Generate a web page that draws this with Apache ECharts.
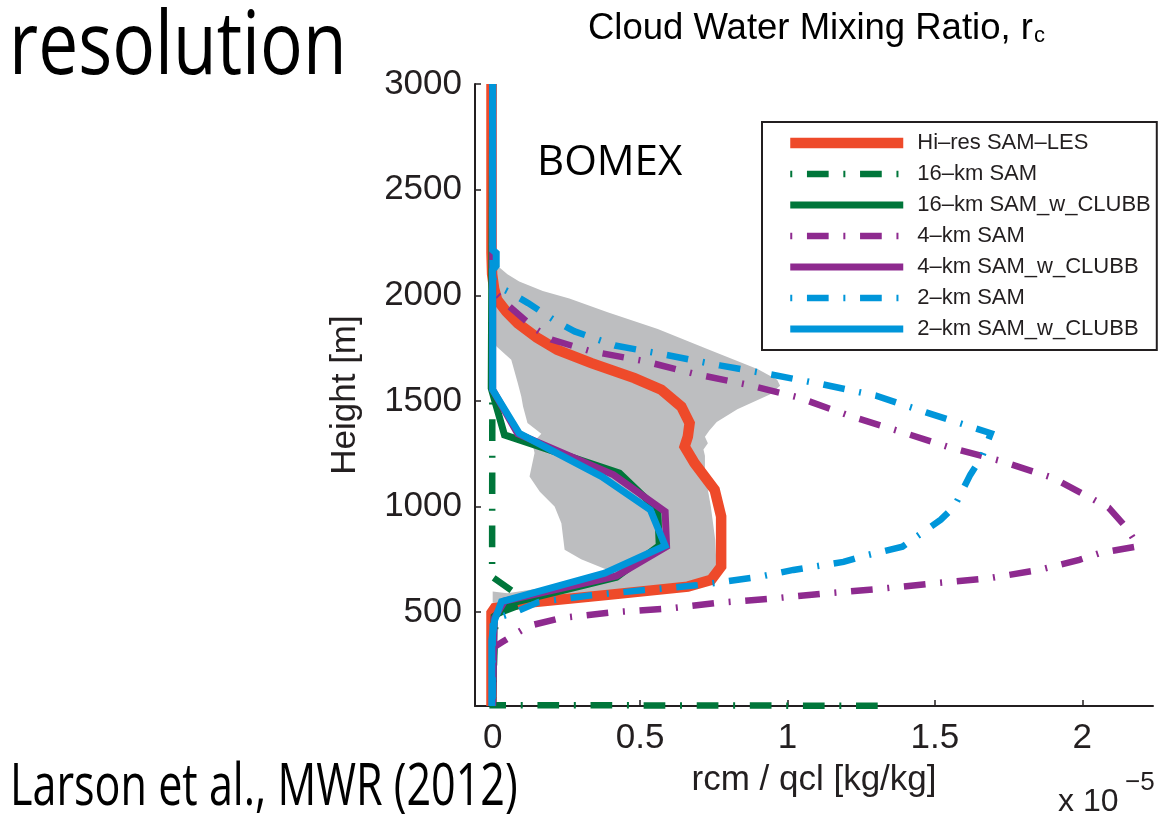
<!DOCTYPE html>
<html>
<head>
<meta charset="utf-8">
<script src="https://cdn.jsdelivr.net/npm/echarts@6.0.0/dist/echarts.min.js"></script>
<style>
  html, body { margin: 0; padding: 0; background: #ffffff; }
  #chart { width: 1172px; height: 815px; }
</style>
</head>
<body>
<div id="chart"></div>
<script>
// Heights in metres; mixing ratios in units of 1e-5 kg/kg.
const lesHeight = [3000, 2200, 2100, 2030, 1979, 1923, 1868, 1800, 1742, 1679, 1608, 1553, 1473, 1395, 1331, 1284, 1205, 1079, 953, 795, 716, 653, 621, 582, 543, 519, 497, 56];
const lesValue  = [-0.004, -0.004, -0.002, 0.005, 0.015, 0.046, 0.085, 0.15, 0.219, 0.335, 0.481, 0.572, 0.64, 0.668, 0.662, 0.651, 0.685, 0.753, 0.775, 0.775, 0.775, 0.741, 0.662, 0.391, 0.108, 0.007, -0.004, -0.004];

const sam16Height = [3000, 668, 548, 490, 60, 57];
const sam16Value  = [0, -0.002, 0.12, 0.01, 0, 1.34];

const clubb16Height = [3000, 1560, 1339, 1158, 985, 815, 665, 545, 480, 56];
const clubb16Value  = [0, -0.005, 0.04, 0.43, 0.56, 0.565, 0.42, 0.07, 0.005, 0];

const sam4Height = [3000, 2060, 2010, 1955, 1846, 1790, 1736, 1688, 1628, 1578, 1517, 1430, 1356, 1280, 1217, 1136, 1047, 994, 900, 812, 780, 748, 699, 660, 637, 610, 589, 565, 545, 518, 500, 472, 441, 416, 361, 330, 56];
const sam4Value  = [0, 0, 0.01, 0.05, 0.14, 0.2, 0.33, 0.515, 0.685, 0.86, 1.035, 1.21, 1.38, 1.55, 1.72, 1.9, 2.02, 2.09, 2.15, 2.19, 2.06, 1.99, 1.85, 1.68, 1.5, 1.31, 1.13, 0.95, 0.77, 0.6, 0.41, 0.23, 0.14, 0.1, 0.035, 0, 0];

const clubb4Height = [3000, 1553, 1345, 1150, 976, 811, 672, 552, 470, 56];
const clubb4Value  = [0, 0, 0.085, 0.41, 0.585, 0.59, 0.42, 0.04, 0.005, 0];

const sam2Height = [3000, 2080, 2040, 2010, 1963, 1876, 1829, 1762, 1716, 1668, 1625, 1578, 1525, 1446, 1347, 1236, 1150, 1000, 938, 810, 763, 738, 700, 668, 640, 627, 605, 580, 548, 500, 470, 440, 56];
const sam2Value  = [0, 0, 0.02, 0.063, 0.12, 0.216, 0.278, 0.415, 0.595, 0.77, 0.945, 1.12, 1.3, 1.47, 1.69, 1.66, 1.62, 1.566, 1.52, 1.39, 1.25, 1.19, 1.02, 0.905, 0.76, 0.69, 0.515, 0.335, 0.155, 0.075, 0.01, 0, 0];

const clubb2Height = [3000, 2215, 2200, 2140, 2120, 1553, 1347, 1142, 984, 815, 685, 550, 464, 369, 56];
const clubb2Value  = [0, 0, 0.012, 0.012, 0, 0, 0.09, 0.37, 0.535, 0.585, 0.38, 0.03, 0.007, -0.003, -0.003];

// Outline of the LES ensemble spread (shaded region)
const bandValue  = [0, 0.02, 0.05, 0.09, 0.17, 0.26, 0.39, 0.56, 0.73, 0.9, 0.965, 0.975, 0.94, 0.83, 0.76, 0.735, 0.72, 0.73, 0.715, 0.72, 0.72, 0.74, 0.755, 0.76, 0.74, 0.65, 0.39, 0.1, 0, 0, 0.05, 0.2, 0.39, 0.3, 0.244, 0.233, 0.21, 0.16, 0.125, 0.142, 0.135, 0.165, 0.118, 0.103, 0.097, 0.085, 0.063, 0.013, 0];
const bandHeight = [2140, 2135, 2100, 2065, 2020, 1985, 1920, 1840, 1745, 1650, 1600, 1572, 1530, 1460, 1400, 1360, 1330, 1300, 1270, 1240, 1158, 1000, 842, 700, 660, 625, 588, 550, 545, 598, 590, 622, 700, 750, 795, 921, 1000, 1070, 1142, 1253, 1300, 1345, 1395, 1473, 1521, 1585, 1695, 1758, 1800];

const xTicks = [0, 0.5, 1, 1.5, 2];
const yTicks = [500, 1000, 1500, 2000, 2500, 3000];

const seriesNames = ['Hi–res SAM–LES', '16–km SAM', '16–km SAM_w_CLUBB', '4–km SAM', '4–km SAM_w_CLUBB', '2–km SAM', '2–km SAM_w_CLUBB'];

const RED = '#ee4a2a', GREEN = '#00763a', PURPLE = '#8e2a8f', BLUE = '#0096da';
const INK = '#231f20';
const DASH_DOT = [2, 14.7, 21.7, 14.7];
const AXIS_FONT = 'Liberation Sans, Arial, Helvetica, sans-serif';

const pairs = (vals, hts) => vals.map((v, i) => [v, hts[i]]);

function profile(name, vals, hts, color, width, dashed) {
  return {
    type: 'line',
    name: name,
    data: pairs(vals, hts),
    symbol: 'none',
    symbolSize: 0,
    showSymbol: false,
    smooth: false,
    clip: true,
    silent: true,
    itemStyle: { color: color },
    lineStyle: { color: color, width: width, type: dashed ? DASH_DOT : 'solid', cap: 'butt', join: 'miter' }
  };
}

const chart = echarts.init(document.getElementById('chart'), null, { renderer: 'canvas' });

chart.setOption({
  animation: false,
  backgroundColor: '#ffffff',
  grid: { left: 475, top: 84, width: 678, height: 622, containLabel: false },
  xAxis: {
    type: 'value',
    min: -0.06,
    max: 2.24,
    name: 'rcm / qcl [kg/kg]',
    nameLocation: 'middle',
    nameGap: 57,
    nameTextStyle: { fontFamily: AXIS_FONT, fontSize: 35, color: INK },
    axisLine: { show: true, onZero: false, lineStyle: { color: INK, width: 2 } },
    axisTick: { show: true, inside: true, length: 6, customValues: xTicks, lineStyle: { color: INK, width: 1.5 } },
    axisLabel: { customValues: xTicks, margin: 15, fontFamily: AXIS_FONT, fontSize: 35, color: INK, formatter: v => String(v) },
    splitLine: { show: false }
  },
  yAxis: {
    type: 'value',
    min: 56,
    max: 3000,
    name: 'Height [m]',
    nameLocation: 'middle',
    nameGap: 112,
    nameTextStyle: { fontFamily: AXIS_FONT, fontSize: 35, color: INK },
    axisLine: { show: true, onZero: false, lineStyle: { color: INK, width: 2 } },
    axisTick: { show: true, inside: true, length: 6, customValues: yTicks, lineStyle: { color: INK, width: 1.5 } },
    axisLabel: { customValues: yTicks, margin: 13, fontFamily: AXIS_FONT, fontSize: 35, color: INK, formatter: v => String(v) },
    splitLine: { show: false }
  },
  legend: {
    data: seriesNames,
    orient: 'vertical',
    left: 762,
    top: 122,
    padding: [10, 6, 10, 23],
    itemGap: 9,
    itemWidth: 113,
    itemHeight: 14,
    backgroundColor: '#ffffff',
    borderColor: INK,
    borderWidth: 2,
    borderRadius: 0,
    selectedMode: false,
    itemStyle: { opacity: 0 },
    lineStyle: { width: 'inherit', type: 'inherit', color: 'inherit' },
    textStyle: { fontFamily: AXIS_FONT, fontSize: 22, lineHeight: 22, color: INK, padding: [0, 0, 0, 9] }
  },
  graphic: [
    {
      type: 'text', left: 588, top: 3, z: 10,
      style: {
        text: '{m|Cloud Water Mixing Ratio, r}{s|c}',
        rich: {
          m: { fontFamily: AXIS_FONT, fontSize: 36.5, lineHeight: 37, color: INK, verticalAlign: 'top' },
          s: { fontFamily: AXIS_FONT, fontSize: 22, lineHeight: 22, color: INK, verticalAlign: 'bottom', padding: [22, 0, 0, 1] }
        }
      }
    },
    {
      type: 'text', x: 1058, y: 802, z: 10,
      style: { text: 'x 10', fontFamily: AXIS_FONT, fontSize: 32, fill: INK, verticalAlign: 'middle', align: 'left' }
    },
    {
      type: 'text', x: 1125, y: 783, z: 10,
      style: { text: '−5', fontFamily: AXIS_FONT, fontSize: 26, fill: INK, verticalAlign: 'middle', align: 'left' }
    },
    {
      type: 'text', x: 537, y: 163, z: 10,
      style: { text: 'BOMEX', fontFamily: 'Open Sans, sans-serif', fontSize: 42, fill: '#000000', verticalAlign: 'middle', align: 'left' }
    },
    {
      type: 'text', x: 9, y: 49, scaleX: 0.81, z: 10,
      style: { text: 'resolution', fontFamily: 'Open Sans, sans-serif', fontSize: 88, fill: '#000000', verticalAlign: 'middle', align: 'left' }
    },
    {
      type: 'text', x: 10, y: 788, scaleX: 0.743, z: 10,
      style: { text: 'Larson et al., MWR (2012)', fontFamily: 'Open Sans, sans-serif', fontSize: 58, fill: '#000000', verticalAlign: 'middle', align: 'left' }
    }
  ],
  series: [
    {
      type: 'custom',
      name: 'LES spread',
      silent: true,
      clip: true,
      data: [[0, 0]],
      renderItem: function (params, api) {
        const pts = bandValue.map((v, i) => api.coord([v, bandHeight[i]]));
        return { type: 'polygon', shape: { points: pts }, style: { fill: '#bdbec0', stroke: null } };
      }
    },
    profile(seriesNames[0], lesValue, lesHeight, RED, 10.5, false),
    profile(seriesNames[1], sam16Value, sam16Height, GREEN, 6.5, true),
    profile(seriesNames[2], clubb16Value, clubb16Height, GREEN, 7, false),
    profile(seriesNames[3], sam4Value, sam4Height, PURPLE, 6.5, true),
    profile(seriesNames[4], clubb4Value, clubb4Height, PURPLE, 7, false),
    profile(seriesNames[5], sam2Value, sam2Height, BLUE, 6.5, true),
    profile(seriesNames[6], clubb2Value, clubb2Height, BLUE, 7, false)
  ]
});
</script>
</body>
</html>
